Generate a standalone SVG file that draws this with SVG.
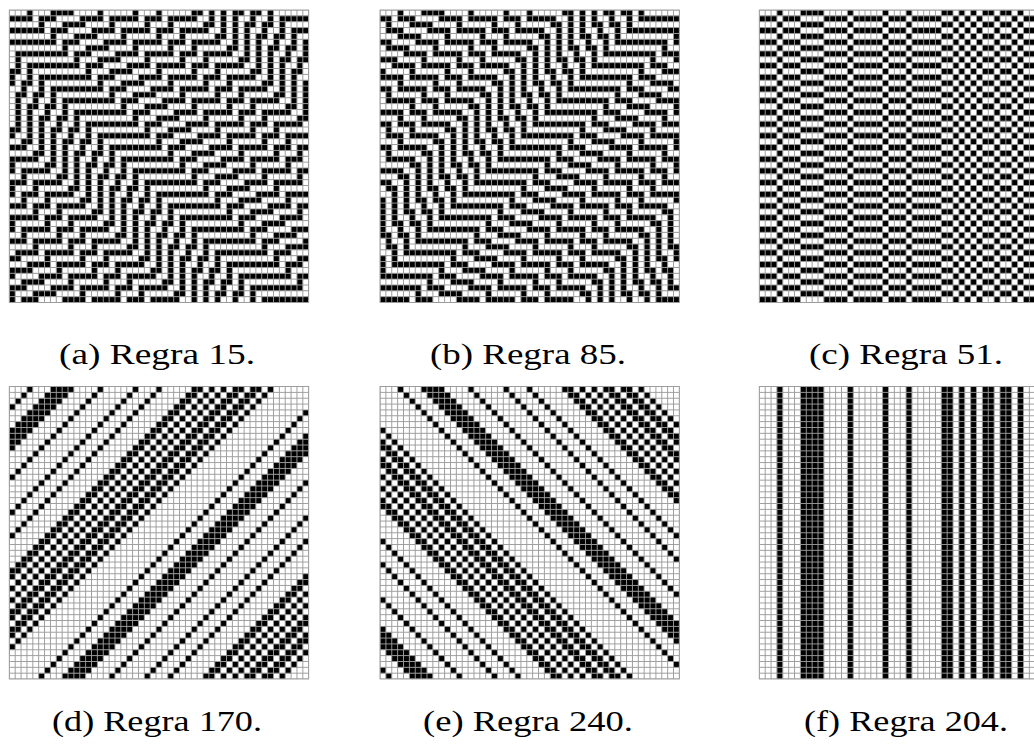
<svg xmlns="http://www.w3.org/2000/svg" xmlns:xlink="http://www.w3.org/1999/xlink" width="1034" height="744" viewBox="0 0 1034 744">
<style>
.cap{font-family:"Liberation Serif","DejaVu Serif",serif;font-size:30px;fill:#000;text-anchor:middle}
.w{fill:#fff}
</style>
<defs>
<path id="R1" d="M3 0h1v1h-1zM7 0h4v1h-4zM15 0h1v1h-1zM21 0h1v1h-1zM25 0h1v1h-1zM31 0h2v1h-2zM34 0h1v1h-1zM36 0h1v1h-1zM38 0h2v1h-2zM41 0h2v1h-2zM44 0h1v1h-1z"/>
<g id="R"><use href="#R1"/><use href="#R1" x="51"/></g>
<path id="odd" d="M0 1h51v1H0zM0 3h51v1H0zM0 5h51v1H0zM0 7h51v1H0zM0 9h51v1H0zM0 11h51v1H0zM0 13h51v1H0zM0 15h51v1H0zM0 17h51v1H0zM0 19h51v1H0zM0 21h51v1H0zM0 23h51v1H0zM0 25h51v1H0zM0 27h51v1H0zM0 29h51v1H0zM0 31h51v1H0zM0 33h51v1H0zM0 35h51v1H0zM0 37h51v1H0zM0 39h51v1H0zM0 41h51v1H0zM0 43h51v1H0zM0 45h51v1H0zM0 47h51v1H0zM0 49h51v1H0z"/>
<clipPath id="cp"><rect width="51" height="50"/></clipPath>
<pattern id="grid" width="1" height="1" x="-0.08" y="-0.08" patternUnits="userSpaceOnUse"><rect width="1" height="0.16" fill="#9a9a9a"/><rect width="0.16" height="1" fill="#9a9a9a"/></pattern>
<g id="gridov"><rect width="51" height="50" fill="url(#grid)"/><rect width="51" height="50" fill="none" stroke="#9a9a9a" stroke-width="0.16"/></g>
</defs>

<g id="panel-a" transform="translate(9.3,10) scale(5.87,5.85)">
<g clip-path="url(#cp)">
<rect width="51" height="50" fill="#fff"/>
<use href="#odd"/>
<use href="#R" x="-51" y="0"/><use href="#R" class="w" x="-50" y="1"/><use href="#R" x="-49" y="2"/><use href="#R" class="w" x="-48" y="3"/><use href="#R" x="-47" y="4"/><use href="#R" class="w" x="-46" y="5"/><use href="#R" x="-45" y="6"/><use href="#R" class="w" x="-44" y="7"/><use href="#R" x="-43" y="8"/><use href="#R" class="w" x="-42" y="9"/>
<use href="#R" x="-41" y="10"/><use href="#R" class="w" x="-40" y="11"/><use href="#R" x="-39" y="12"/><use href="#R" class="w" x="-38" y="13"/><use href="#R" x="-37" y="14"/><use href="#R" class="w" x="-36" y="15"/><use href="#R" x="-35" y="16"/><use href="#R" class="w" x="-34" y="17"/><use href="#R" x="-33" y="18"/><use href="#R" class="w" x="-32" y="19"/>
<use href="#R" x="-31" y="20"/><use href="#R" class="w" x="-30" y="21"/><use href="#R" x="-29" y="22"/><use href="#R" class="w" x="-28" y="23"/><use href="#R" x="-27" y="24"/><use href="#R" class="w" x="-26" y="25"/><use href="#R" x="-25" y="26"/><use href="#R" class="w" x="-24" y="27"/><use href="#R" x="-23" y="28"/><use href="#R" class="w" x="-22" y="29"/>
<use href="#R" x="-21" y="30"/><use href="#R" class="w" x="-20" y="31"/><use href="#R" x="-19" y="32"/><use href="#R" class="w" x="-18" y="33"/><use href="#R" x="-17" y="34"/><use href="#R" class="w" x="-16" y="35"/><use href="#R" x="-15" y="36"/><use href="#R" class="w" x="-14" y="37"/><use href="#R" x="-13" y="38"/><use href="#R" class="w" x="-12" y="39"/>
<use href="#R" x="-11" y="40"/><use href="#R" class="w" x="-10" y="41"/><use href="#R" x="-9" y="42"/><use href="#R" class="w" x="-8" y="43"/><use href="#R" x="-7" y="44"/><use href="#R" class="w" x="-6" y="45"/><use href="#R" x="-5" y="46"/><use href="#R" class="w" x="-4" y="47"/><use href="#R" x="-3" y="48"/><use href="#R" class="w" x="-2" y="49"/>
</g>
<use href="#gridov"/>
</g>

<g id="panel-b" transform="translate(380,10) scale(5.87,5.85)">
<g clip-path="url(#cp)">
<rect width="51" height="50" fill="#fff"/>
<use href="#odd"/>
<use href="#R" x="0" y="0"/><use href="#R" class="w" x="-1" y="1"/><use href="#R" x="-2" y="2"/><use href="#R" class="w" x="-3" y="3"/><use href="#R" x="-4" y="4"/><use href="#R" class="w" x="-5" y="5"/><use href="#R" x="-6" y="6"/><use href="#R" class="w" x="-7" y="7"/><use href="#R" x="-8" y="8"/><use href="#R" class="w" x="-9" y="9"/>
<use href="#R" x="-10" y="10"/><use href="#R" class="w" x="-11" y="11"/><use href="#R" x="-12" y="12"/><use href="#R" class="w" x="-13" y="13"/><use href="#R" x="-14" y="14"/><use href="#R" class="w" x="-15" y="15"/><use href="#R" x="-16" y="16"/><use href="#R" class="w" x="-17" y="17"/><use href="#R" x="-18" y="18"/><use href="#R" class="w" x="-19" y="19"/>
<use href="#R" x="-20" y="20"/><use href="#R" class="w" x="-21" y="21"/><use href="#R" x="-22" y="22"/><use href="#R" class="w" x="-23" y="23"/><use href="#R" x="-24" y="24"/><use href="#R" class="w" x="-25" y="25"/><use href="#R" x="-26" y="26"/><use href="#R" class="w" x="-27" y="27"/><use href="#R" x="-28" y="28"/><use href="#R" class="w" x="-29" y="29"/>
<use href="#R" x="-30" y="30"/><use href="#R" class="w" x="-31" y="31"/><use href="#R" x="-32" y="32"/><use href="#R" class="w" x="-33" y="33"/><use href="#R" x="-34" y="34"/><use href="#R" class="w" x="-35" y="35"/><use href="#R" x="-36" y="36"/><use href="#R" class="w" x="-37" y="37"/><use href="#R" x="-38" y="38"/><use href="#R" class="w" x="-39" y="39"/>
<use href="#R" x="-40" y="40"/><use href="#R" class="w" x="-41" y="41"/><use href="#R" x="-42" y="42"/><use href="#R" class="w" x="-43" y="43"/><use href="#R" x="-44" y="44"/><use href="#R" class="w" x="-45" y="45"/><use href="#R" x="-46" y="46"/><use href="#R" class="w" x="-47" y="47"/><use href="#R" x="-48" y="48"/><use href="#R" class="w" x="-49" y="49"/>
</g>
<use href="#gridov"/>
</g>

<g id="panel-c" transform="translate(759.3,10) scale(5.87,5.85)">
<g clip-path="url(#cp)">
<rect width="51" height="50" fill="#fff"/>
<use href="#odd"/>
<use href="#R" y="0"/><use href="#R" class="w" y="1"/><use href="#R" y="2"/><use href="#R" class="w" y="3"/><use href="#R" y="4"/><use href="#R" class="w" y="5"/><use href="#R" y="6"/><use href="#R" class="w" y="7"/><use href="#R" y="8"/><use href="#R" class="w" y="9"/>
<use href="#R" y="10"/><use href="#R" class="w" y="11"/><use href="#R" y="12"/><use href="#R" class="w" y="13"/><use href="#R" y="14"/><use href="#R" class="w" y="15"/><use href="#R" y="16"/><use href="#R" class="w" y="17"/><use href="#R" y="18"/><use href="#R" class="w" y="19"/>
<use href="#R" y="20"/><use href="#R" class="w" y="21"/><use href="#R" y="22"/><use href="#R" class="w" y="23"/><use href="#R" y="24"/><use href="#R" class="w" y="25"/><use href="#R" y="26"/><use href="#R" class="w" y="27"/><use href="#R" y="28"/><use href="#R" class="w" y="29"/>
<use href="#R" y="30"/><use href="#R" class="w" y="31"/><use href="#R" y="32"/><use href="#R" class="w" y="33"/><use href="#R" y="34"/><use href="#R" class="w" y="35"/><use href="#R" y="36"/><use href="#R" class="w" y="37"/><use href="#R" y="38"/><use href="#R" class="w" y="39"/>
<use href="#R" y="40"/><use href="#R" class="w" y="41"/><use href="#R" y="42"/><use href="#R" class="w" y="43"/><use href="#R" y="44"/><use href="#R" class="w" y="45"/><use href="#R" y="46"/><use href="#R" class="w" y="47"/><use href="#R" y="48"/><use href="#R" class="w" y="49"/>
</g>
<use href="#gridov"/>
</g>

<g id="panel-d" transform="translate(9.3,386.5) scale(5.87,5.85)">
<g clip-path="url(#cp)">
<rect width="51" height="50" fill="#fff"/>
<use href="#R" x="0" y="0"/><use href="#R" x="-1" y="1"/><use href="#R" x="-2" y="2"/><use href="#R" x="-3" y="3"/><use href="#R" x="-4" y="4"/><use href="#R" x="-5" y="5"/><use href="#R" x="-6" y="6"/><use href="#R" x="-7" y="7"/><use href="#R" x="-8" y="8"/><use href="#R" x="-9" y="9"/>
<use href="#R" x="-10" y="10"/><use href="#R" x="-11" y="11"/><use href="#R" x="-12" y="12"/><use href="#R" x="-13" y="13"/><use href="#R" x="-14" y="14"/><use href="#R" x="-15" y="15"/><use href="#R" x="-16" y="16"/><use href="#R" x="-17" y="17"/><use href="#R" x="-18" y="18"/><use href="#R" x="-19" y="19"/>
<use href="#R" x="-20" y="20"/><use href="#R" x="-21" y="21"/><use href="#R" x="-22" y="22"/><use href="#R" x="-23" y="23"/><use href="#R" x="-24" y="24"/><use href="#R" x="-25" y="25"/><use href="#R" x="-26" y="26"/><use href="#R" x="-27" y="27"/><use href="#R" x="-28" y="28"/><use href="#R" x="-29" y="29"/>
<use href="#R" x="-30" y="30"/><use href="#R" x="-31" y="31"/><use href="#R" x="-32" y="32"/><use href="#R" x="-33" y="33"/><use href="#R" x="-34" y="34"/><use href="#R" x="-35" y="35"/><use href="#R" x="-36" y="36"/><use href="#R" x="-37" y="37"/><use href="#R" x="-38" y="38"/><use href="#R" x="-39" y="39"/>
<use href="#R" x="-40" y="40"/><use href="#R" x="-41" y="41"/><use href="#R" x="-42" y="42"/><use href="#R" x="-43" y="43"/><use href="#R" x="-44" y="44"/><use href="#R" x="-45" y="45"/><use href="#R" x="-46" y="46"/><use href="#R" x="-47" y="47"/><use href="#R" x="-48" y="48"/><use href="#R" x="-49" y="49"/>
</g>
<use href="#gridov"/>
</g>

<g id="panel-e" transform="translate(380,386.5) scale(5.87,5.85)">
<g clip-path="url(#cp)">
<rect width="51" height="50" fill="#fff"/>
<use href="#R" x="-51" y="0"/><use href="#R" x="-50" y="1"/><use href="#R" x="-49" y="2"/><use href="#R" x="-48" y="3"/><use href="#R" x="-47" y="4"/><use href="#R" x="-46" y="5"/><use href="#R" x="-45" y="6"/><use href="#R" x="-44" y="7"/><use href="#R" x="-43" y="8"/><use href="#R" x="-42" y="9"/>
<use href="#R" x="-41" y="10"/><use href="#R" x="-40" y="11"/><use href="#R" x="-39" y="12"/><use href="#R" x="-38" y="13"/><use href="#R" x="-37" y="14"/><use href="#R" x="-36" y="15"/><use href="#R" x="-35" y="16"/><use href="#R" x="-34" y="17"/><use href="#R" x="-33" y="18"/><use href="#R" x="-32" y="19"/>
<use href="#R" x="-31" y="20"/><use href="#R" x="-30" y="21"/><use href="#R" x="-29" y="22"/><use href="#R" x="-28" y="23"/><use href="#R" x="-27" y="24"/><use href="#R" x="-26" y="25"/><use href="#R" x="-25" y="26"/><use href="#R" x="-24" y="27"/><use href="#R" x="-23" y="28"/><use href="#R" x="-22" y="29"/>
<use href="#R" x="-21" y="30"/><use href="#R" x="-20" y="31"/><use href="#R" x="-19" y="32"/><use href="#R" x="-18" y="33"/><use href="#R" x="-17" y="34"/><use href="#R" x="-16" y="35"/><use href="#R" x="-15" y="36"/><use href="#R" x="-14" y="37"/><use href="#R" x="-13" y="38"/><use href="#R" x="-12" y="39"/>
<use href="#R" x="-11" y="40"/><use href="#R" x="-10" y="41"/><use href="#R" x="-9" y="42"/><use href="#R" x="-8" y="43"/><use href="#R" x="-7" y="44"/><use href="#R" x="-6" y="45"/><use href="#R" x="-5" y="46"/><use href="#R" x="-4" y="47"/><use href="#R" x="-3" y="48"/><use href="#R" x="-2" y="49"/>
</g>
<use href="#gridov"/>
</g>

<g id="panel-f" transform="translate(759.3,386.5) scale(5.87,5.85)">
<g clip-path="url(#cp)">
<rect width="51" height="50" fill="#fff"/>
<use href="#R" transform="scale(1,50)"/>
</g>
<use href="#gridov"/>
</g>

<g id="captions">
<text class="cap" x="157" y="364" textLength="196" lengthAdjust="spacingAndGlyphs">(a) Regra 15.</text>
<text class="cap" x="528" y="364" textLength="196" lengthAdjust="spacingAndGlyphs">(b) Regra 85.</text>
<text class="cap" x="906" y="364" textLength="194" lengthAdjust="spacingAndGlyphs">(c) Regra 51.</text>
<text class="cap" x="157" y="731" textLength="210" lengthAdjust="spacingAndGlyphs">(d) Regra 170.</text>
<text class="cap" x="528" y="731" textLength="210" lengthAdjust="spacingAndGlyphs">(e) Regra 240.</text>
<text class="cap" x="906" y="731" textLength="204" lengthAdjust="spacingAndGlyphs">(f) Regra 204.</text>
</g>
</svg>
